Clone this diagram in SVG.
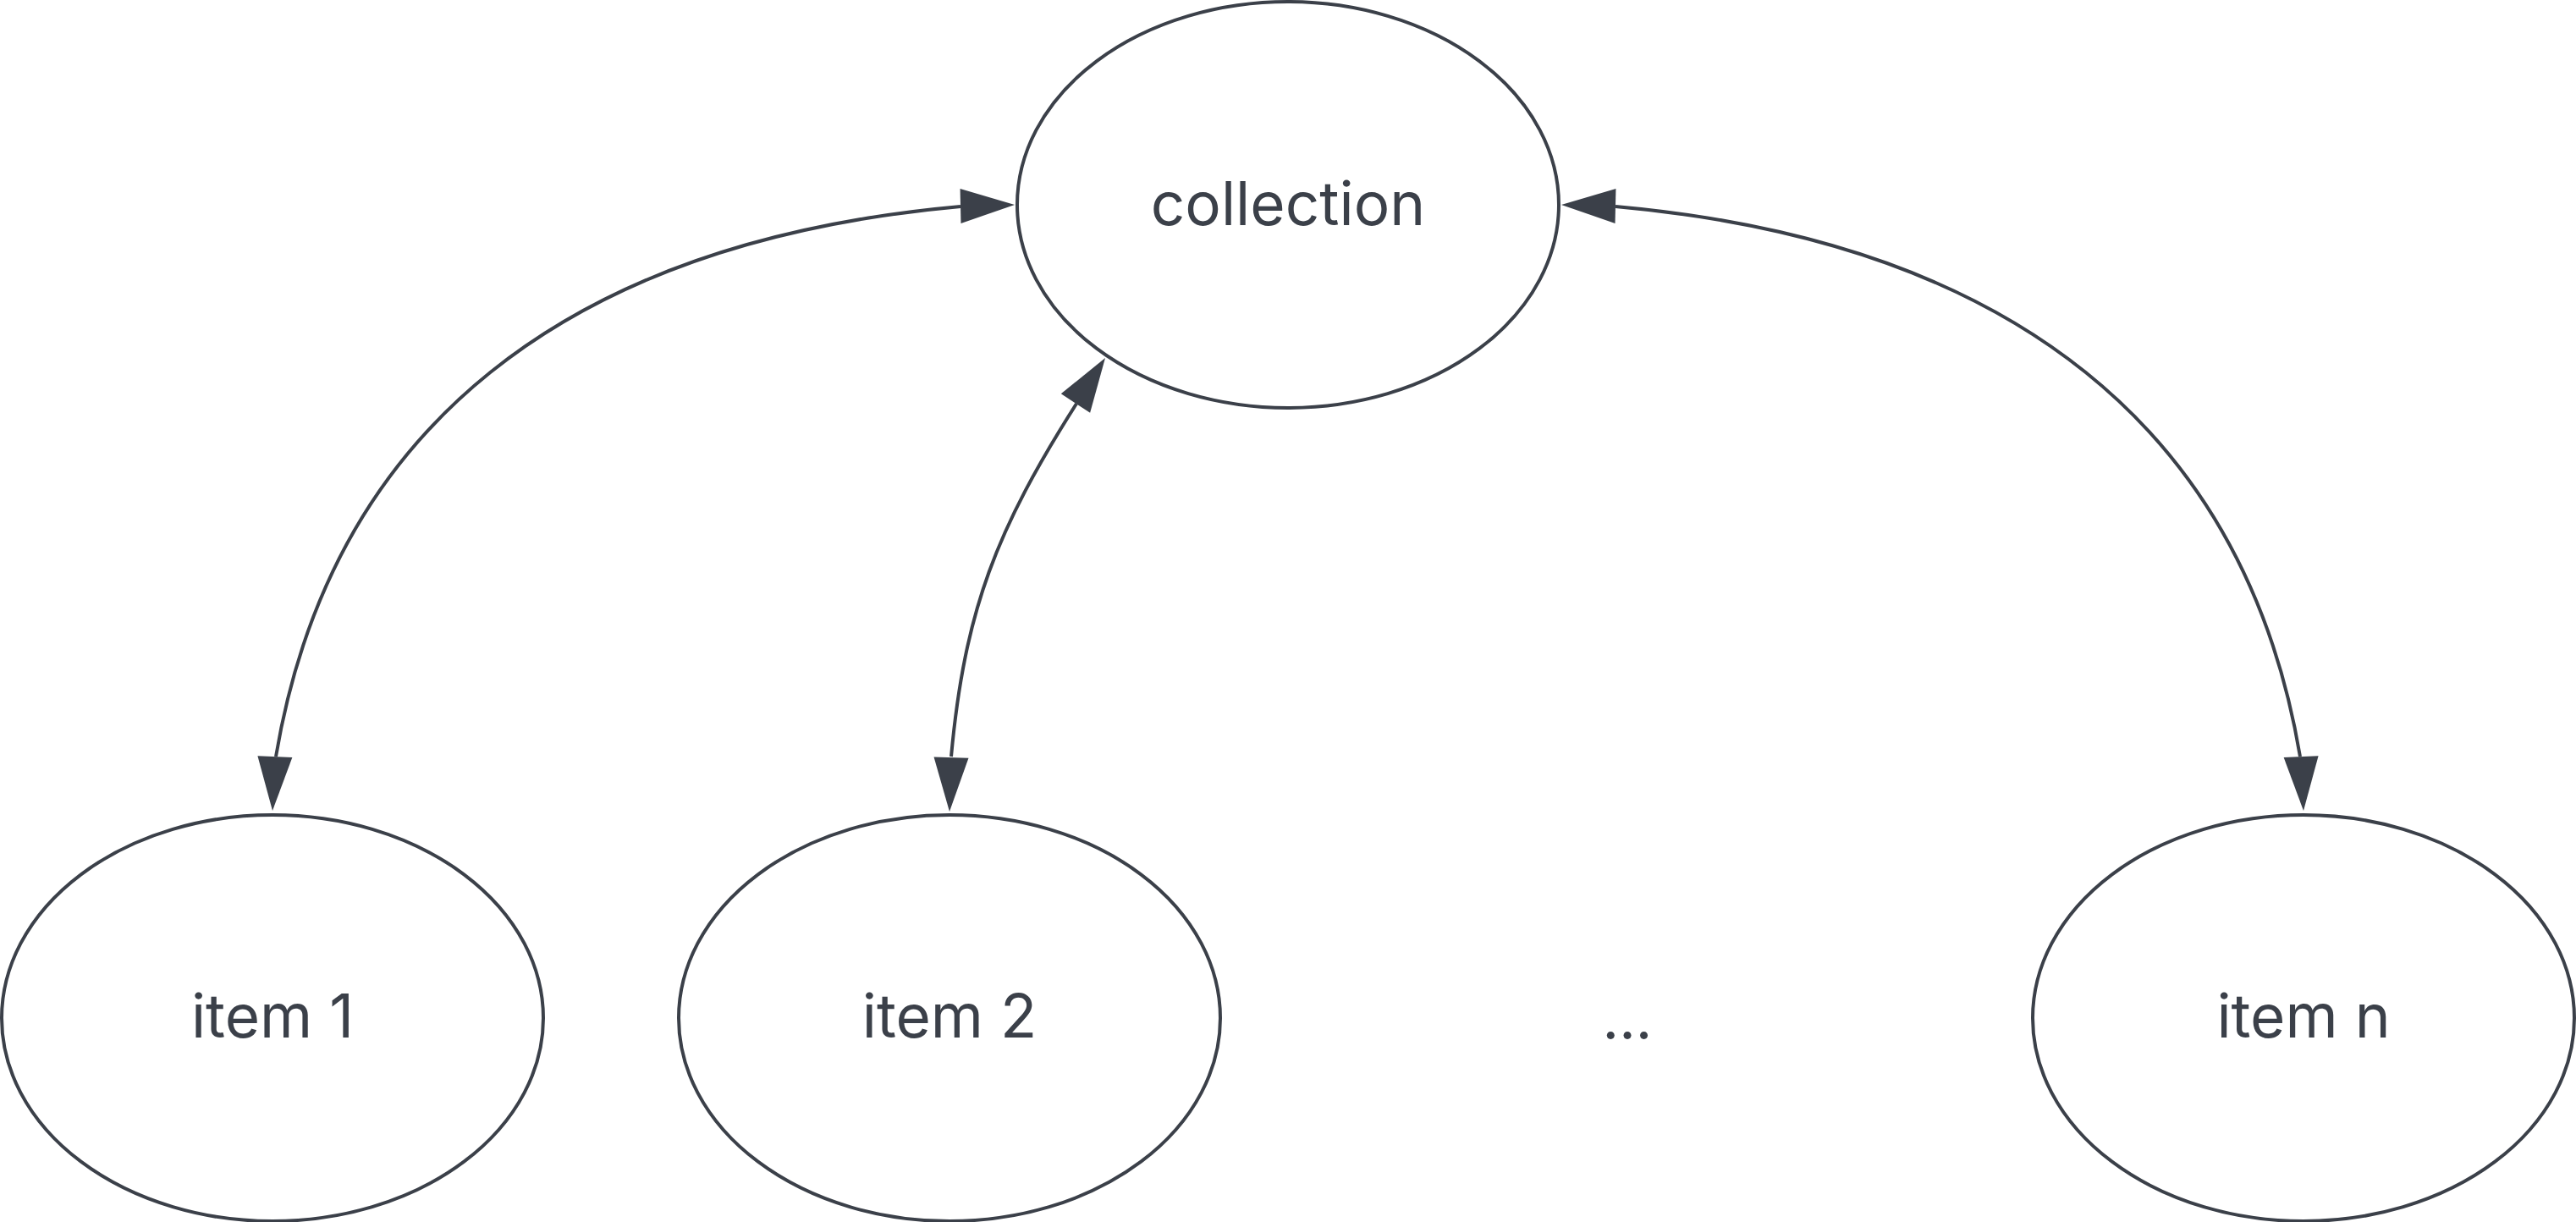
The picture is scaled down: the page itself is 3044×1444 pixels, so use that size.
<svg xmlns="http://www.w3.org/2000/svg" width="3044" height="1444" viewBox="0 0 3044 1444">
  <style>
    .node { fill: #ffffff; stroke: #3b4049; stroke-width: 4; }
    .label { font-family: "Inter", "Liberation Sans", sans-serif; font-size: 71px; fill: #3b4049; text-anchor: middle; }
    .dots { font-family: "Inter", "Liberation Sans", sans-serif; font-size: 68px; fill: #3b4049; text-anchor: middle; }
    .edge { fill: none; stroke: #3b4049; stroke-width: 4; }
    .head { fill: #3b4049; stroke: none; }
  </style>
  <defs>
    <path id="ah" class="head" d="M0,0 L-64,-20.5 L-64,20.5 Z"/>
  </defs>
  <rect x="0" y="0" width="3044" height="1444" fill="#ffffff"/>
  <g id="connectors">
    <g id="edge-collection-item1">
      <path class="edge" d="M1135,244 C667,286 391,508 326,894"/>
      <use href="#ah" transform="translate(1199,242) rotate(-1.3)"/>
      <use href="#ah" transform="translate(322,958) rotate(92.6)"/>
    </g>
    <g id="edge-collection-item2">
      <path class="edge" d="M1272,477 C1178,625 1140,720 1124,894"/>
      <use href="#ah" transform="translate(1306,423) rotate(-56.8)"/>
      <use href="#ah" transform="translate(1122,959) rotate(91.8)"/>
    </g>
    <g id="edge-collection-itemn">
      <path class="edge" d="M1909,244 C2377,286 2653,508 2718,894"/>
      <use href="#ah" transform="translate(1845,242) rotate(181.3)"/>
      <use href="#ah" transform="translate(2722,958) rotate(87.4)"/>
    </g>
  </g>
  <g id="collection">
    <ellipse class="node" cx="1522" cy="242" rx="320" ry="240"/>
    <text class="label" x="1522" y="266">collection</text>
  </g>
  <g id="item1">
    <ellipse class="node" cx="322" cy="1203" rx="320" ry="240"/>
    <text class="label" x="322" y="1226">item 1</text>
  </g>
  <g id="item2">
    <ellipse class="node" cx="1122" cy="1203" rx="320" ry="240"/>
    <text class="label" x="1122" y="1226">item 2</text>
  </g>
  <g id="ellipsis">
    <text class="dots" x="1923" y="1228">...</text>
  </g>
  <g id="itemn">
    <ellipse class="node" cx="2722" cy="1203" rx="320" ry="240"/>
    <text class="label" x="2722" y="1226">item n</text>
  </g>
</svg>
